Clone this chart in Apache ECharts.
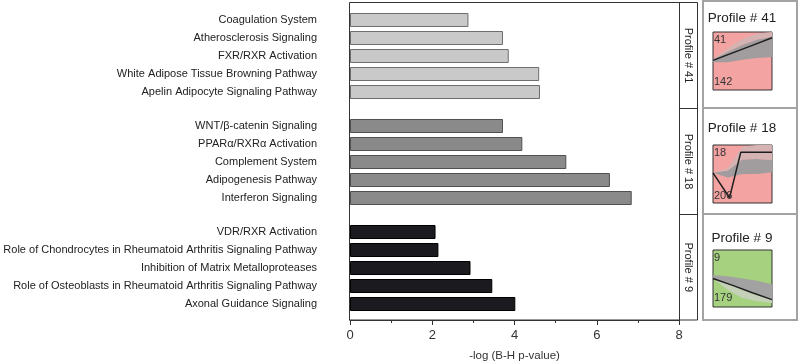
<!DOCTYPE html>
<html>
<head>
<meta charset="utf-8">
<script src="https://cdn.jsdelivr.net/npm/echarts@6/dist/echarts.min.js"></script>
<style>
  html, body { margin: 0; padding: 0; background: #fff; }
  #main { width: 798px; height: 363px; }
</style>
</head>
<body>
<div id="main"></div>
<script>
// pathways per profile, top to bottom
var cats41 = ['Coagulation System', 'Atherosclerosis Signaling', 'FXR/RXR Activation',
  'White Adipose Tissue Browning Pathway', 'Apelin Adipocyte Signaling Pathway'];
var vals41 = [2.88, 3.72, 3.86, 4.60, 4.62];

var cats18 = ['WNT/β-catenin Signaling', 'PPARα/RXRα Activation', 'Complement System',
  'Adipogenesis Pathway', 'Interferon Signaling'];
var vals18 = [3.72, 4.19, 5.26, 6.32, 6.85];

var cats9 = ['VDR/RXR Activation', 'Role of Chondrocytes in Rheumatoid Arthritis Signaling Pathway',
  'Inhibition of Matrix Metalloproteases', 'Role of Osteoblasts in Rheumatoid Arthritis Signaling Pathway',
  'Axonal Guidance Signaling'];
var vals9 = [2.08, 2.15, 2.93, 3.46, 4.02];

var profileNames = ['Profile # 41', 'Profile # 18', 'Profile # 9'];
var profileIds = ['41', '18', '9'];
var geneCounts = ['142', '206', '179'];

// STEM profile thumbnails (normalised expression, 0 = bottom, 1 = top)
var lineX41 = [0, 1, 2, 3];
var lineY41 = [0.51, 0.64, 0.77, 0.90];
var lineX18 = [0, 0.84, 1.41, 3];
var lineY18 = [0.52, 0.09, 0.874, 0.874];
var lineX9 = [0, 1, 2, 3];
var lineY9 = [0.50, 0.38, 0.25, 0.13];

// gene envelopes, sampled at five points across each thumbnail
var bandPts = ['a', 'b', 'c', 'd', 'e'];
var band41Low = [0.48, 0.48, 0.52, 0.55, 0.57];
var band41High = [0.53, 0.66, 0.78, 0.87, 0.92];
var band41Pale = [0.53, 0.72, 0.88, 0.97, 1.0];
var band18Low = [0.52, 0.44, 0.50, 0.50, 0.53];
var band18High = [0.52, 0.56, 0.75, 0.76, 0.74];
var band18Pale = [0.52, 0.60, 0.97, 1.0, 1.0];
var band9Low = [0.50, 0.42, 0.32, 0.22, 0.15];
var band9High = [0.56, 0.54, 0.50, 0.46, 0.40];
var band9Pale = [0.50, 0.30, 0.16, 0.10, 0.07];

var FONT = 'Liberation Sans';

function pairs(xs, ys) {
  var out = [];
  for (var i = 0; i < xs.length; i++) out.push([xs[i], ys[i]]);
  return out;
}
function diff(a, b) {
  var out = [];
  for (var i = 0; i < a.length; i++) out.push(+(a[i] - b[i]).toFixed(3));
  return out;
}

function barSeries(idx, vals, color, border) {
  return {
    type: 'bar', xAxisIndex: idx, yAxisIndex: idx, data: vals, barWidth: 14,
    itemStyle: { color: color, borderColor: border, borderWidth: 1 },
    silent: true
  };
}

// bands use the category x axes 3..5, y axes 3..5
function bandSeries(idx, stack, vals, color) {
  return {
    type: 'line', xAxisIndex: idx, yAxisIndex: idx, stack: stack,
    data: vals, symbol: 'none', silent: true,
    lineStyle: { width: 0, opacity: 0 },
    areaStyle: color ? { color: color, opacity: 1 } : { opacity: 0 }
  };
}

// profile lines use the value x axes 6..8
function profileLine(idx, xs, ys) {
  return {
    type: 'line', xAxisIndex: idx + 3, yAxisIndex: idx, data: pairs(xs, ys),
    symbol: 'none', silent: true, z: 5,
    lineStyle: { color: '#1e1e1e', width: 1.5 }
  };
}

var barCatAxis = function (idx, cats) {
  return {
    type: 'category', gridIndex: idx, data: cats, inverse: true,
    axisLine: { show: false }, axisTick: { show: false },
    axisLabel: { margin: 33, fontSize: 11, color: '#222', fontFamily: FONT }
  };
};

var hiddenVal = function (idx, max) {
  return { type: 'value', gridIndex: idx, min: 0, max: max, show: false };
};
var hiddenCat = function (idx) {
  return { type: 'category', gridIndex: idx, data: bandPts, boundaryGap: false, show: false };
};

var pink = '#f3a3a1';
var green = '#a6d280';

var dom = document.getElementById('main');
var myChart = echarts.init(dom);

var option = {
  animation: false,
  textStyle: { fontFamily: FONT },
  grid: [
    { left: 350, width: 329, top: 11, height: 90, outerBoundsMode: 'none' },
    { left: 350, width: 329, top: 117, height: 90, outerBoundsMode: 'none' },
    { left: 350, width: 329, top: 223, height: 90, outerBoundsMode: 'none' },
    { left: 713, width: 59, top: 32, height: 58, outerBoundsMode: 'none',
      show: true, backgroundColor: pink, borderColor: '#333', borderWidth: 1 },
    { left: 713, width: 59, top: 145, height: 58, outerBoundsMode: 'none',
      show: true, backgroundColor: pink, borderColor: '#333', borderWidth: 1 },
    { left: 713, width: 59, top: 250, height: 57, outerBoundsMode: 'none',
      show: true, backgroundColor: green, borderColor: '#333', borderWidth: 1 }
  ],
  xAxis: [
    hiddenVal(0, 8),
    hiddenVal(1, 8),
    {
      type: 'value', gridIndex: 2, min: 0, max: 8, interval: 2, offset: 7,
      splitLine: { show: false },
      axisLine: { show: true, lineStyle: { color: '#333' } },
      axisTick: { show: true, length: 5, lineStyle: { color: '#333' } },
      minorTick: { show: true, splitNumber: 2, length: 3, lineStyle: { color: '#333' } },
      axisLabel: { fontSize: 13, margin: 9, color: '#333', fontFamily: FONT },
      name: '-log (B-H p-value)', nameLocation: 'middle', nameGap: 30,
      nameTextStyle: { fontSize: 11.5, color: '#333', fontFamily: FONT }
    },
    hiddenCat(3),
    hiddenCat(4),
    hiddenCat(5),
    hiddenVal(3, 3),
    hiddenVal(4, 3),
    hiddenVal(5, 3)
  ],
  yAxis: [
    barCatAxis(0, cats41),
    barCatAxis(1, cats18),
    barCatAxis(2, cats9),
    hiddenVal(3, 1),
    hiddenVal(4, 1),
    hiddenVal(5, 1)
  ],
  series: [
    barSeries(0, vals41, '#c9c9c9', '#6e6e6e'),
    barSeries(1, vals18, '#8a8a8a', '#505050'),
    barSeries(2, vals9, '#1b1a1f', '#000'),

    bandSeries(3, 'p41', band41Low, null),
    bandSeries(3, 'p41', diff(band41High, band41Low), '#a19d9e'),
    bandSeries(3, 'p41', diff(band41Pale, band41High), '#d6b3b3'),
    profileLine(3, lineX41, lineY41),

    bandSeries(4, 'p18', band18Low, null),
    bandSeries(4, 'p18', diff(band18High, band18Low), '#a19d9e'),
    bandSeries(4, 'p18', diff(band18Pale, band18High), '#d6b3b3'),
    profileLine(4, lineX18, lineY18),

    bandSeries(5, 'p9', band9Pale, null),
    bandSeries(5, 'p9', diff(band9Low, band9Pale), '#c4d1b8'),
    bandSeries(5, 'p9', diff(band9High, band9Low), '#a2a2a2'),
    profileLine(5, lineX9, lineY9)
  ],
  graphic: []
};

// plot frame and facet strips
var g = option.graphic;
g.push({ type: 'rect', shape: { x: 349.5, y: 2.5, width: 348, height: 317.5 },
  style: { fill: null, stroke: '#333', lineWidth: 1 }, z: 10, silent: true });
g.push({ type: 'line', shape: { x1: 679.5, y1: 2.5, x2: 679.5, y2: 320 },
  style: { stroke: '#333', lineWidth: 1 }, z: 10, silent: true });
var stripTops = [2.5, 108.5, 214.5];
var stripBottoms = [108.5, 214.5, 320];
for (var i = 0; i < 3; i++) {
  if (i > 0) {
    g.push({ type: 'line', shape: { x1: 679.5, y1: stripTops[i], x2: 697.5, y2: stripTops[i] },
      style: { stroke: '#333', lineWidth: 1 }, z: 10, silent: true });
  }
  g.push({
    type: 'text', x: 688.5, y: (stripTops[i] + stripBottoms[i]) / 2, rotation: -Math.PI / 2,
    style: { text: profileNames[i], fontSize: 11, fill: '#222', fontFamily: FONT,
      align: 'center', verticalAlign: 'middle' }, z: 10, silent: true
  });
}

// profile thumbnail boxes on the right
var boxTops = [1, 108, 214];
var boxHeights = [107, 106, 106];
var titleY = [18, 128, 238];
var idY = [40, 153, 258];
var countY = [82, 196, 298];
for (var j = 0; j < 3; j++) {
  g.push({ type: 'rect', shape: { x: 703, y: boxTops[j], width: 94, height: boxHeights[j] },
    style: { fill: null, stroke: '#a3a3a3', lineWidth: 2 }, z: 10, silent: true });
  g.push({ type: 'text', x: 742, y: titleY[j],
    style: { text: profileNames[j], fontSize: 13.5, fill: '#222', fontFamily: FONT,
      align: 'center', verticalAlign: 'middle' }, z: 10, silent: true });
  g.push({ type: 'text', x: 714, y: idY[j],
    style: { text: profileIds[j], fontSize: 11, fill: '#333', fontFamily: FONT,
      align: 'left', verticalAlign: 'middle' }, z: 10, silent: true });
  g.push({ type: 'text', x: 714, y: countY[j],
    style: { text: geneCounts[j], fontSize: 11, fill: '#333', fontFamily: FONT,
      align: 'left', verticalAlign: 'middle' }, z: 10, silent: true });
}

if (option && typeof option === "object") {
  myChart.setOption(option, true);
}
</script>
</body>
</html>
